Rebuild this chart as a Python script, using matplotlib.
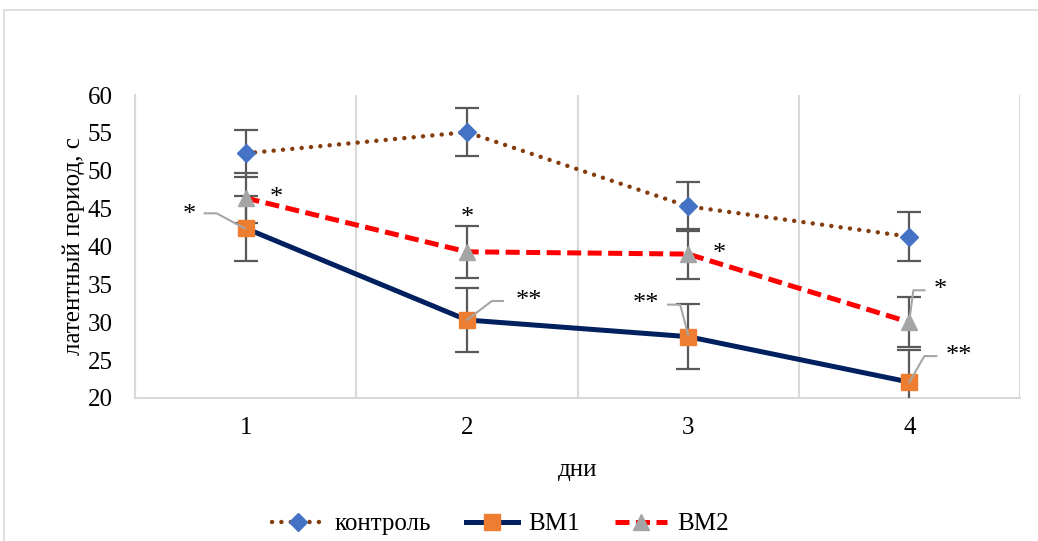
import numpy as np
import matplotlib
matplotlib.use("Agg")
import matplotlib.pyplot as plt
from matplotlib.lines import Line2D
from matplotlib.patches import Rectangle

plt.rcParams['font.family'] = ['Liberation Serif', 'DejaVu Serif']

days = [1, 2, 3, 4]
day_labels = ["1", "2", "3", "4"]

control = [52.3, 55.1, 45.3, 41.3]
control_err = [3.1, 3.2, 3.2, 3.2]
bm1 = [42.4, 30.3, 28.1, 22.1]
bm1_err = [4.3, 4.2, 4.3, 4.3]
bm2 = [46.4, 39.3, 39.0, 30.0]
bm2_err = [3.3, 3.4, 3.3, 3.3]

# significance marks: (series, day index, text, text offset px, leader offsets px)
marks = [
    ("bm1", 0, "*", (-56, 13), [(-41, 15), (-29, 15), (-1, 0)]),
    ("bm2", 0, "*", (31, 0), None),
    ("bm2", 1, "*", (0, 34), None),
    ("bm1", 1, "**", (62, 19), [(36, 19), (25, 19), (0, 0)]),
    ("bm1", 2, "**", (-42, 33), [(-20, 32), (-8, 32), (0, 2)]),
    ("bm2", 2, "*", (31, 0), None),
    ("bm2", 3, "*", (31, 32), [(15, 32), (4, 32), (0, 2)]),
    ("bm1", 3, "**", (50, 26), [(27, 26), (15, 26), (0, 0)]),
]

fs = 18
fig = plt.figure(figsize=(10.38, 5.41), dpi=100)
fig.patches.append(Rectangle((4 / 1038, -0.05), 1.1, 1 - 10 / 541 + 0.05,
                             transform=fig.transFigure, fill=False,
                             edgecolor="#D9D9D9", linewidth=1.2))
ax = fig.add_axes([135 / 1038, 1 - 398 / 541, 885 / 1038, 303 / 541])

err_kw = dict(ecolor="#595959", elinewidth=1.6, capsize=8.5, capthick=1.6)

ax.errorbar(days, control, yerr=control_err, fmt="none", zorder=3, **err_kw)
ax.errorbar(days, bm1, yerr=bm1_err, fmt="none", zorder=3, **err_kw)
ax.errorbar(days, bm2, yerr=bm2_err, fmt="none", zorder=3, **err_kw)

l_ctrl, = ax.plot(days, control, color="#843C0C", lw=3.2,
                  linestyle=(0, (0.01, 2.1)), dash_capstyle="round",
                  marker="D", markersize=9.5, markerfacecolor="#4472C4",
                  markeredgecolor="#4472C4", zorder=4, label="контроль")
l_bm1, = ax.plot(days, bm1, color="#002060", lw=3.6,
                 marker="s", markersize=12, markerfacecolor="#ED7D31",
                 markeredgecolor="#ED7D31", zorder=4, label="ВМ1")
l_bm2, = ax.plot(days, bm2, color="#FF0000", lw=3.6,
                 linestyle=(0, (2.8, 1.3)),
                 marker="^", markersize=12, markerfacecolor="#A5A5A5",
                 markeredgecolor="#A5A5A5", zorder=4, label="ВМ2")

ax.set_xlim(0.5, 4.5)
ax.set_ylim(20, 60)
ax.set_yticks(np.arange(20, 61, 5))
ax.set_xticks(days)
ax.set_xticklabels(day_labels)
ax.set_xticks([0.5, 1.5, 2.5, 3.5, 4.5], minor=True)
ax.grid(True, which="minor", axis="x", color="#D9D9D9", lw=1.5)
ax.tick_params(which="both", length=0, labelsize=fs)
ax.tick_params(axis="x", pad=14)
ax.tick_params(axis="y", pad=16)
for side in ["top", "right"]:
    ax.spines[side].set_visible(False)
for side in ["left", "bottom"]:
    ax.spines[side].set_color("#D9D9D9")
    ax.spines[side].set_linewidth(1.5)

ax.set_xlabel("дни", fontsize=fs, labelpad=14)
ax.set_ylabel("латентный период, с", fontsize=fs, labelpad=2)

series = {"bm1": bm1, "bm2": bm2}
for name, i, txt, toff, leader in marks:
    x, y = days[i], series[name][i]
    px, py = ax.transData.transform((x, y))
    ax.text(px + toff[0], py + toff[1], txt, transform=None,
            fontsize=19, ha="center", va="center", zorder=6)
    if leader:
        xs = [px + dx for dx, dy in leader]
        ys = [py + dy for dx, dy in leader]
        fig.lines.append(Line2D(xs, ys, transform=None, color="#A6A6A6",
                                lw=1.5, zorder=5))

fig.legend(handles=[l_ctrl, l_bm1, l_bm2], loc="center",
           bbox_to_anchor=(0.482, 0.031), ncol=3, frameon=False,
           fontsize=fs, handlelength=2.1, handletextpad=0.4,
           columnspacing=1.4)

fig.savefig("out.png", dpi=100)
